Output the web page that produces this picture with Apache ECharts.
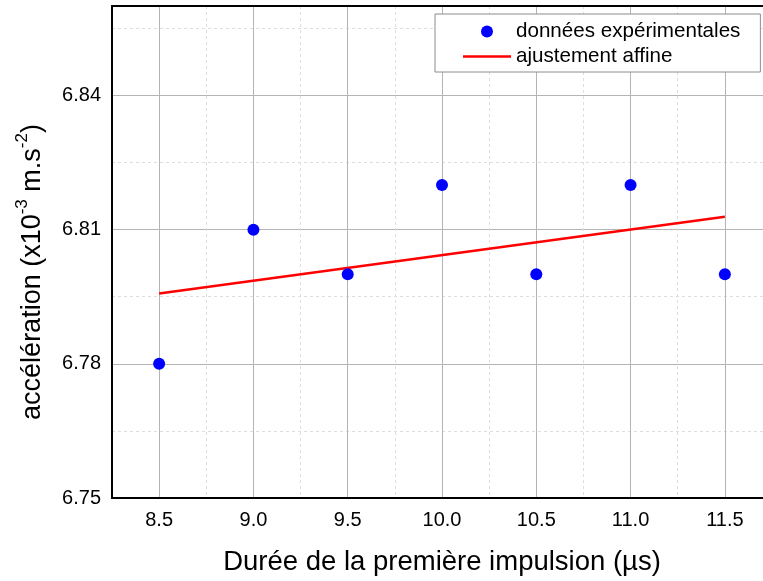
<!DOCTYPE html>
<html>
<head>
<meta charset="utf-8">
<script src="https://cdn.jsdelivr.net/npm/echarts@6/dist/echarts.min.js"></script>
<style>
html,body{margin:0;padding:0;background:#fff;}
#chart{width:763px;height:581px;}
</style>
</head>
<body>
<div id="chart"></div>
<script>
// Data
const durations = [8.5, 9.0, 9.5, 10.0, 10.5, 11.0, 11.5];
const accelerations = [6.78, 6.81, 6.80, 6.82, 6.80, 6.82, 6.80];
const fitDurations = [8.5, 11.5];
const fitAccelerations = [6.7957, 6.8129];
const xTickLabels = ['8.5', '9.0', '9.5', '10.0', '10.5', '11.0', '11.5'];
const yTickLabels = ['6.75', '6.78', '6.81', '6.84'];
const seriesNames = ['données expérimentales', 'ajustement affine'];

const FONT = 'Liberation Sans, Arial, sans-serif';
const major = '#b4b4b4';
const minor = '#dedede';
const clear = 'rgba(0,0,0,0)';

const chart = echarts.init(document.getElementById('chart'), null, {renderer: 'canvas'});
chart.setOption({
  backgroundColor: '#fff',
  animation: false,
  grid: {left: 112, top: 6, width: 660, height: 492, outerBoundsMode: 'none', containLabel: false},
  legend: {
    orient: 'vertical',
    left: 435, top: 14,
    data: [
      {name: seriesNames[0], icon: 'circle'},
      {name: seriesNames[1], icon: 'path://M0,0L48,0L48,2.5L0,2.5Z'}
    ],
    itemWidth: 48, itemHeight: 12, itemGap: 4,
    padding: [7, 20, 5, 28],
    borderColor: '#8c8c8c', borderWidth: 1,
    backgroundColor: '#fff',
    textStyle: {fontFamily: FONT, fontSize: 20.6, color: '#000'}
  },
  xAxis: [{
    type: 'value', position: 'bottom', min: 8.25, max: 11.75, interval: 0.25,
    axisLine: {show: true, onZero: false, lineStyle: {color: '#000', width: 2}},
    axisTick: {show: false},
    axisLabel: {
      fontFamily: FONT, fontSize: 20, color: '#000', margin: 12,
      formatter: v => { const s = v.toFixed(1); return xTickLabels.includes(s) && Math.abs(parseFloat(s) - v) < 1e-6 ? s : ''; }
    },
    splitLine: {show: true, lineStyle: {color: [clear, major], width: 1, type: 'solid'}},
    name: 'Durée de la première impulsion (µs)',
    nameLocation: 'middle', nameGap: 50,
    nameTextStyle: {fontFamily: FONT, fontSize: 27.5, color: '#000'}
  }, {
    type: 'value', position: 'top', min: 8.25, max: 11.75, interval: 0.25,
    axisLine: {show: true, onZero: false, lineStyle: {color: '#000', width: 2}},
    axisTick: {show: false}, axisLabel: {show: false},
    splitLine: {show: true, lineStyle: {color: [minor, clear], width: 1, type: [3, 3]}}
  }],
  yAxis: [{
    type: 'value', position: 'left', min: 6.75, max: 6.86, interval: 0.015,
    axisLine: {show: true, onZero: false, lineStyle: {color: '#000', width: 2}},
    axisTick: {show: false},
    axisLabel: {
      fontFamily: FONT, fontSize: 20, color: '#000', margin: 11,
      formatter: v => { const s = v.toFixed(2); return yTickLabels.includes(s) && Math.abs(parseFloat(s) - v) < 1e-6 ? s : ''; }
    },
    splitLine: {show: true, lineStyle: {color: [major, clear], width: 1, type: 'solid'}},
    name: '{t|accélération (x10}{s|-3}{t| m.s}{s|-2}{t|)}',
    nameLocation: 'middle', nameGap: 66, nameRotate: 90,
    nameTextStyle: {
      padding: [0, 40, 0, 0],
      rich: {
        t: {fontFamily: FONT, fontSize: 27, color: '#000', lineHeight: 32, verticalAlign: 'bottom'},
        s: {fontFamily: FONT, fontSize: 17, color: '#000', lineHeight: 32, verticalAlign: 'top'}
      }
    }
  }, {
    type: 'value', position: 'right', min: 6.75, max: 6.86, interval: 0.015,
    axisLine: {show: false}, axisTick: {show: false}, axisLabel: {show: false},
    splitLine: {show: true, lineStyle: {color: [clear, minor], width: 1, type: [3, 3]}}
  }],
  series: [{
    name: seriesNames[0], type: 'scatter', xAxisIndex: 0, yAxisIndex: 0,
    symbol: 'circle', symbolSize: 12,
    itemStyle: {color: '#0000ff', opacity: 1},
    data: durations.map((x, i) => [x, accelerations[i]]),
    z: 3
  }, {
    name: seriesNames[1], type: 'line', xAxisIndex: 0, yAxisIndex: 0,
    symbol: 'none', showSymbol: false,
    lineStyle: {color: '#ff0000', width: 2.5},
    itemStyle: {color: '#ff0000'},
    data: fitDurations.map((x, i) => [x, fitAccelerations[i]]),
    z: 2
  }]
});
</script>
</body>
</html>
